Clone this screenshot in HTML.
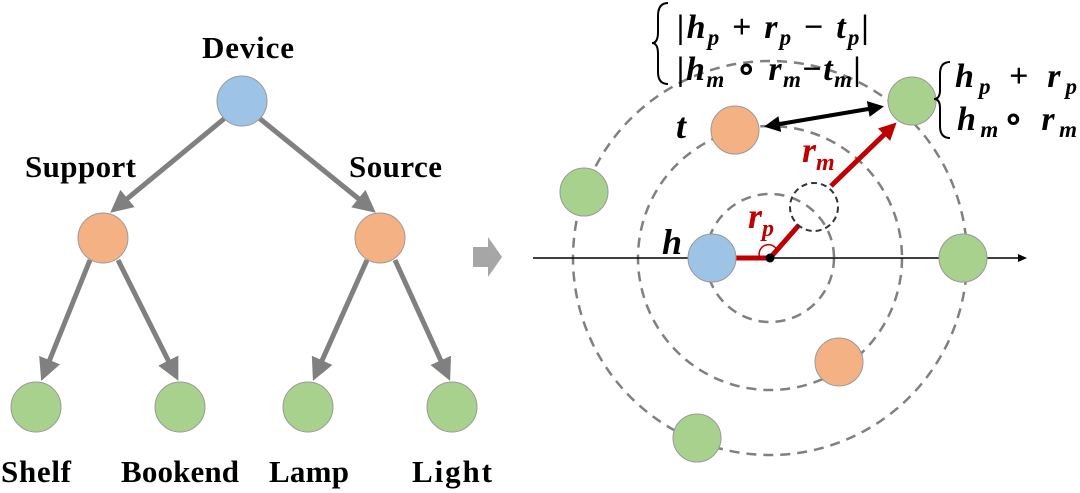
<!DOCTYPE html>
<html><head><meta charset="utf-8"><style>
html,body{margin:0;padding:0;background:#fff;}
svg{display:block}
text{font-family:"Liberation Serif",serif;font-weight:bold;}
</style></head><body>
<svg width="1080" height="493" viewBox="0 0 1080 493" xmlns="http://www.w3.org/2000/svg">
<defs>
<marker id="ga" markerWidth="4.5" markerHeight="4.5" refX="3" refY="2.25" orient="auto" markerUnits="strokeWidth"><path d="M0,0 L4.5,2.25 L0,4.5 z" fill="#808080"/></marker>
<marker id="ra" markerWidth="3.5" markerHeight="3.5" refX="2.5" refY="1.75" orient="auto" markerUnits="strokeWidth"><path d="M0,0 L3.5,1.75 L0,3.5 z" fill="#c00000"/></marker>
<marker id="ba" markerWidth="4" markerHeight="4" refX="3" refY="2" orient="auto-start-reverse" markerUnits="strokeWidth"><path d="M0,0 L4,2 L0,4 z" fill="#000"/></marker>
</defs>
<g stroke="#808080" stroke-width="5" fill="none">
<line x1="225" y1="118" x2="116" y2="208" marker-end="url(#ga)"/>
<line x1="259" y1="118" x2="370" y2="208" marker-end="url(#ga)"/>
<line x1="90" y1="260" x2="44" y2="374" marker-end="url(#ga)"/>
<line x1="118" y1="260" x2="175" y2="374" marker-end="url(#ga)"/>
<line x1="367" y1="260" x2="316" y2="374" marker-end="url(#ga)"/>
<line x1="395" y1="260" x2="447" y2="374" marker-end="url(#ga)"/>
</g>
<g stroke="#999" stroke-width="1">
<circle cx="242" cy="101" r="25" fill="#9dc3e6"/>
<circle cx="103" cy="238" r="25" fill="#f4b183"/>
<circle cx="380" cy="238" r="25" fill="#f4b183"/>
<circle cx="36" cy="407" r="25" fill="#a9d18e"/>
<circle cx="180" cy="407" r="25" fill="#a9d18e"/>
<circle cx="308" cy="407" r="25" fill="#a9d18e"/>
<circle cx="452" cy="407" r="25" fill="#a9d18e"/>
</g>
<g font-size="31" fill="#000">
<text x="248" y="58" text-anchor="middle" textLength="92">Device</text>
<text x="25" y="177" textLength="111">Support</text>
<text x="349" y="177" textLength="93">Source</text>
<text x="1" y="482" textLength="70">Shelf</text>
<text x="121" y="482" textLength="118">Bookend</text>
<text x="269" y="482" textLength="80">Lamp</text>
<text x="412" y="482" textLength="80">Light</text>
</g>
<path d="M473,247 L488,247 L488,237 L502,257 L488,277 L488,267 L473,267 z" fill="#a6a6a6"/>
<g stroke="#808080" stroke-width="2.5" fill="none" stroke-dasharray="10,7">
<circle cx="770" cy="258" r="64"/>
<circle cx="770" cy="258" r="132"/>
<circle cx="770" cy="258" r="197"/>
</g>
<line x1="533" y1="258" x2="1020" y2="258" stroke="#000" stroke-width="1.5"/>
<path d="M1018,254 L1027,258 L1018,262 z" fill="#000"/>
<line x1="735" y1="258" x2="770" y2="258" stroke="#c00000" stroke-width="5"/>
<line x1="770" y1="258" x2="799" y2="225" stroke="#c00000" stroke-width="5"/>
<line x1="831" y1="186" x2="893" y2="126" stroke="#c00000" stroke-width="5" marker-end="url(#ra)"/>
<path d="M760,258 A9,9 0 0 1 777,250" fill="none" stroke="#c00000" stroke-width="1.5"/>
<circle cx="770" cy="258" r="4.5" fill="#000"/>
<circle cx="814" cy="207" r="24" fill="none" stroke="#333" stroke-width="2" stroke-dasharray="6,4"/>
<line x1="768" y1="126" x2="880" y2="107" stroke="#000" stroke-width="4" marker-start="url(#ba)" marker-end="url(#ba)"/>
<g stroke="#999" stroke-width="1">
<circle cx="712" cy="258" r="24" fill="#9dc3e6"/>
<circle cx="735" cy="130" r="24" fill="#f4b183"/>
<circle cx="839" cy="362" r="24" fill="#f4b183"/>
<circle cx="912" cy="101" r="24" fill="#a9d18e"/>
<circle cx="584" cy="192" r="24" fill="#a9d18e"/>
<circle cx="963" cy="258" r="24" fill="#a9d18e"/>
<circle cx="697" cy="438" r="24" fill="#a9d18e"/>
</g>
<g font-style="italic" font-size="36">
<text x="662" y="254">h</text>
<text x="676" y="138">t</text>
<text x="748" y="228" fill="#c00000">r<tspan font-size="24" dy="8">p</tspan></text>
<text x="802" y="162" fill="#c00000">r<tspan font-size="24" dy="8">m</tspan></text>
</g>
<g font-style="italic" font-size="34">
<text x="677" y="38" textLength="192">|h<tspan font-size="23" dy="7">p</tspan><tspan dy="-7" font-style="normal"> + </tspan>r<tspan font-size="23" dy="7">p</tspan><tspan dy="-7" font-style="normal"> − </tspan>t<tspan font-size="23" dy="7">p</tspan><tspan dy="-7">|</tspan></text>
<text x="677" y="80" textLength="184">|h<tspan font-size="23" dy="7">m</tspan><tspan dy="-7" font-style="normal"> ∘ </tspan>r<tspan font-size="23" dy="7">m</tspan><tspan dy="-7" font-style="normal">−</tspan>t<tspan font-size="23" dy="7">m</tspan><tspan dy="-7">|</tspan></text>
<text x="955" y="87" textLength="122">h<tspan font-size="23" dy="7">p</tspan><tspan dy="-7" font-style="normal"> + </tspan>r<tspan font-size="23" dy="7">p</tspan></text>
<text x="957" y="130" textLength="120">h<tspan font-size="23" dy="7">m</tspan><tspan dy="-7" font-style="normal">∘ </tspan>r<tspan font-size="23" dy="7">m</tspan></text>
</g>
<path d="M668,3 Q658,3 658,16 L658,32 Q658,43 652,43 Q658,43 658,54 L658,72 Q658,84 668,84" fill="none" stroke="#000" stroke-width="2"/>
<path d="M950,62 Q940,62 940,74 L940,90 Q940,99 934,99 Q940,99 940,108 L940,126 Q940,138 950,138" fill="none" stroke="#000" stroke-width="2"/>
</svg>
</body></html>
